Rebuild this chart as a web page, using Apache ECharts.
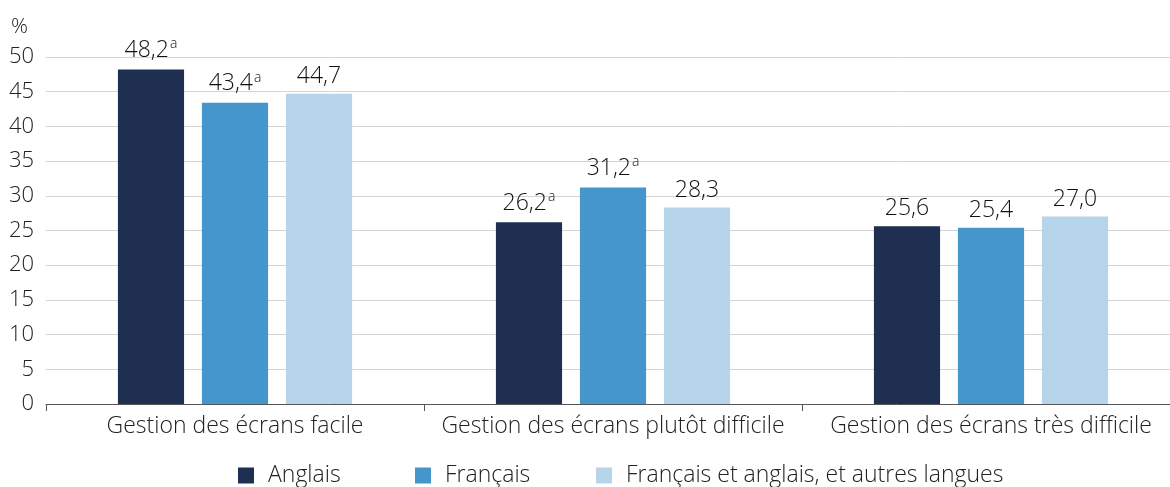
<!DOCTYPE html>
<html>
<head>
<meta charset="utf-8">
<script src="https://cdn.jsdelivr.net/npm/echarts@6/dist/echarts.min.js"></script>
<style>
  html, body { margin: 0; padding: 0; background: #fff; overflow: hidden; }
  #chart { width: 1180px; height: 487px; }
</style>
</head>
<body>
<div id="chart"></div>
<script>
// catégories et valeurs
var categories = ['Gestion des écrans facile', 'Gestion des écrans plutôt difficile', 'Gestion des écrans très difficile'];
var seriesNames = ['Anglais', 'Français', 'Français et anglais, et autres langues'];
var anglais = [48.2, 26.2, 25.6];
var francais = [43.4, 31.2, 25.4];
var autres = [44.7, 28.3, 27.0];
// renvois "a"
var anglaisNote = ['a', 'a', ''];
var francaisNote = ['a', 'a', ''];
var autresNote = ['', '', ''];
var colors = ['#1e2f52', '#4596cc', '#b6d5ea'];

var font = '"Open Sans", "Noto Sans", sans-serif';

function makeSeries(name, values, notes, color) {
    return {
        name: name,
        type: 'bar',
        data: values,
        barWidth: '17.5%',
        barGap: '27%',
        itemStyle: { color: color },
        label: {
            show: true,
            position: 'top',
            distance: 6,
            formatter: function (p) {
                var txt = '{v|' + p.value.toFixed(1).replace('.', ',') + '}';
                if (notes[p.dataIndex]) {
                    txt += '{s|' + notes[p.dataIndex] + '}';
                }
                return txt;
            },
            rich: {
                v: { fontSize: 23, fontWeight: 300, color: '#111', fontFamily: font },
                s: { fontSize: 14, fontWeight: 300, color: '#111', fontFamily: font, padding: [0, 0, 12, 1] }
            }
        }
    };
}

var chart = echarts.init(document.getElementById('chart'));
var legendBase = {
    bottom: -5,
    itemWidth: 16,
    itemHeight: 16,
    icon: 'rect',
    textStyle: { fontSize: 23, fontWeight: 300, color: '#222', fontFamily: font, padding: [0, 0, 0, 9] }
};
chart.setOption({
    animation: false,
    grid: { left: 46, right: 0, top: 57, bottom: 83, containLabel: false },
    legend: [
        Object.assign({}, legendBase, { left: 233, data: [seriesNames[0]] }),
        Object.assign({}, legendBase, { left: 410, data: [seriesNames[1]] }),
        Object.assign({}, legendBase, { left: 591, data: [seriesNames[2]] })
    ],
    xAxis: {
        type: 'category',
        data: categories,
        axisLine: { lineStyle: { color: '#555', width: 1 } },
        axisTick: { show: true, length: 7, lineStyle: { color: '#555' } },
        axisLabel: { interval: 0, fontSize: 23, fontWeight: 300, color: '#222', fontFamily: font, margin: 11 }
    },
    yAxis: {
        type: 'value',
        min: 0,
        max: 50,
        interval: 5,
        name: '%',
        nameLocation: 'end',
        nameGap: 19,
        nameTextStyle: { fontSize: 21, fontWeight: 300, color: '#222', fontFamily: font, align: 'right', padding: [0, 18, 0, 0] },
        axisLine: { show: false },
        axisTick: { show: false },
        axisLabel: { fontSize: 22, fontWeight: 300, color: '#222', fontFamily: font, margin: 12 },
        splitLine: { lineStyle: { color: '#d4d4d4', width: 1 } }
    },
    series: [
        makeSeries(seriesNames[0], anglais, anglaisNote, colors[0]),
        makeSeries(seriesNames[1], francais, francaisNote, colors[1]),
        makeSeries(seriesNames[2], autres, autresNote, colors[2])
    ]
});
</script>
</body>
</html>
